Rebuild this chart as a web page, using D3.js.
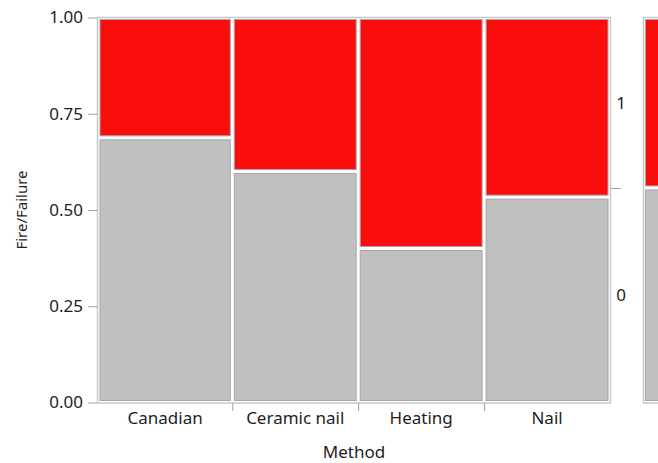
<!DOCTYPE html>
<html><head><meta charset="utf-8">
<script src="https://cdn.jsdelivr.net/npm/d3@7"></script>
<style>
html,body{margin:0;padding:0;background:#fff;}
svg text{font-family:"Noto Sans","Open Sans",sans-serif;fill:#1e1e1e;}
</style></head>
<body><svg id="c" width="658" height="463"></svg>
<script>
// Data: counts by Method and Fire/Failure level
const methods = ["Canadian", "Ceramic nail", "Heating", "Nail"];
const levels = ["0", "1"];
const count0 = [11, 9, 6, 8];   // Fire/Failure = 0 (gray)
const count1 = [5, 6, 9, 7];    // Fire/Failure = 1 (red)
const yTicks = [0, 0.25, 0.5, 0.75, 1];
const colors = {"0": "#c0c0c0", "1": "#fb0d0d"};

const svg = d3.select("#c");
const L = 98, R = 610, T = 17.5, B = 402.5;
const totals = methods.map((m, i) => count0[i] + count1[i]);
const grand = d3.sum(totals);
const x = d3.scaleLinear().domain([0, grand]).range([L, R]);
const y = d3.scaleLinear().domain([0, 1]).range([B, T]);

// cells
const cells = [];
let cum = 0;
methods.forEach((m, i) => {
  const p0 = count0[i] / totals[i];
  cells.push({m, lev: "0", a: cum, b: cum + totals[i], lo: 0, hi: p0, i});
  cells.push({m, lev: "1", a: cum, b: cum + totals[i], lo: p0, hi: 1, i});
  cum += totals[i];
});

const g = 2;
svg.append("g").selectAll("rect").data(cells).join("rect")
  .attr("x", d => x(d.a) + g)
  .attr("y", d => y(d.hi) + g)
  .attr("width", d => x(d.b) - x(d.a) - 2 * g)
  .attr("height", d => y(d.lo) - y(d.hi) - 2 * g)
  .attr("fill", d => colors[d.lev])
  .attr("stroke", "#a6a6a6").attr("stroke-width", 1);

// frame
svg.append("rect").attr("x", L - 0.5).attr("y", T).attr("width", R - L + 1).attr("height", B - T + 0.5)
  .attr("fill", "none").attr("stroke", "#c8c8c8").attr("stroke-width", 1.5);

// y axis
const ya = svg.append("g").attr("transform", `translate(${L - 1},0)`)
  .call(d3.axisLeft(y).tickValues(yTicks).tickFormat(d3.format(".2f")).tickSize(9).tickPadding(5));
ya.select(".domain").remove();
ya.selectAll("line").attr("stroke", "#a0a0a0");
ya.selectAll("text").attr("font-size", 17).style("font-family", "'Noto Sans',sans-serif").attr("fill", "#1e1e1e");

// x axis: ticks at column boundaries, labels at centers
const bounds = [];
let c2 = 0;
totals.forEach((t, i) => { c2 += t; if (i < totals.length - 1) bounds.push(c2); });
const xa = svg.append("g").attr("transform", `translate(0,${B + 0.5})`)
  .call(d3.axisBottom(x).tickValues(bounds).tickFormat("").tickSize(8));
xa.select(".domain").remove();
xa.selectAll("line").attr("stroke", "#a0a0a0");

let c3 = 0;
const centers = totals.map(t => { const c = c3 + t / 2; c3 += t; return c; });
svg.append("g").selectAll("text").data(methods).join("text")
  .attr("x", (d, i) => x(centers[i])).attr("y", 424)
  .attr("text-anchor", "middle").attr("font-size", 17).text(d => d);

// axis titles
svg.append("text").attr("x", (L + R) / 2).attr("y", 458).attr("text-anchor", "middle")
  .attr("font-size", 17).text("Method");
svg.append("text").attr("transform", `translate(27,${(T + B) / 2}) rotate(-90)`)
  .attr("text-anchor", "middle").attr("font-size", 15).text("Fire/Failure");

// right marginal axis
const tot0 = d3.sum(count0);
const m0 = tot0 / grand;
svg.append("line").attr("x1", R + 1).attr("x2", R + 11).attr("y1", Math.round(y(m0)) + 0.5).attr("y2", Math.round(y(m0)) + 0.5)
  .attr("stroke", "#a0a0a0");
svg.append("text").attr("x", 621).attr("y", y(m0 / 2)).attr("dy", "0.35em").attr("text-anchor", "middle")
  .attr("font-size", 17).text(levels[0]);
svg.append("text").attr("x", 621).attr("y", y((m0 + 1) / 2)).attr("dy", "0.35em").attr("text-anchor", "middle")
  .attr("font-size", 17).text(levels[1]);

// marginal bar
const ML = 643.5, MR = 700;
const marg = [{lev: "0", lo: 0, hi: m0}, {lev: "1", lo: m0, hi: 1}];
svg.append("g").selectAll("rect").data(marg).join("rect")
  .attr("x", ML + g).attr("y", d => y(d.hi) + g)
  .attr("width", MR - ML - 2 * g).attr("height", d => y(d.lo) - y(d.hi) - 2 * g)
  .attr("fill", d => colors[d.lev]).attr("stroke", "#a6a6a6").attr("stroke-width", 1);
svg.append("rect").attr("x", ML).attr("y", T).attr("width", MR - ML).attr("height", B - T + 0.5)
  .attr("fill", "none").attr("stroke", "#c8c8c8").attr("stroke-width", 1.5);
</script></body></html>
